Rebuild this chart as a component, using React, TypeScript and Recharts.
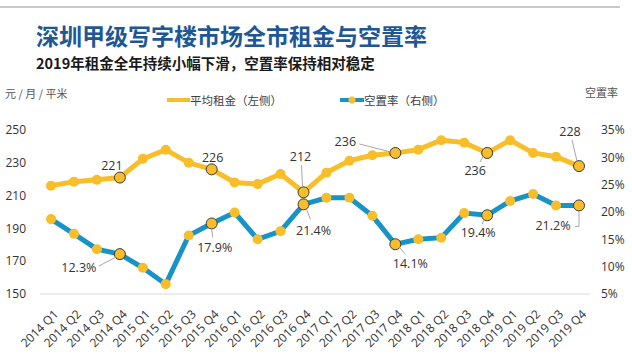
import React from "react";
import { LineChart, Line, XAxis, YAxis, CartesianGrid, Legend, LabelList } from "recharts";

// quarters on the category axis
const quarters = [
  "2014 Q1", "2014 Q2", "2014 Q3", "2014 Q4",
  "2015 Q1", "2015 Q2", "2015 Q3", "2015 Q4",
  "2016 Q1", "2016 Q2", "2016 Q3", "2016 Q4",
  "2017 Q1", "2017 Q2", "2017 Q3", "2017 Q4",
  "2018 Q1", "2018 Q2", "2018 Q3", "2018 Q4",
  "2019 Q1", "2019 Q2", "2019 Q3", "2019 Q4",
];

// 平均租金 (元/月/平米), left axis
const rent = [
  216, 218.5, 219.6, 221,
  232.4, 238, 230, 226,
  218, 217, 223.2, 212,
  224, 231.3, 234.6, 236,
  238, 243.8, 242.3, 236,
  243.8, 236, 233.7, 228,
];

// 空置率 (%), right axis
const vacancy = [
  18.7, 16.0, 13.2, 12.3,
  9.8, 6.8, 15.7, 17.9,
  19.9, 15.0, 16.5, 21.4,
  22.6, 22.6, 19.3, 14.1,
  15.0, 15.3, 19.8, 19.4,
  22.0, 23.3, 21.2, 21.2,
];

const rentTicks = [150, 170, 190, 210, 230, 250];
const vacancyTicks = [5, 10, 15, 20, 25, 30, 35];

// the points that carry a value label
const labelled = [3, 7, 11, 15, 19, 23];

const YELLOW = "#F8BE2A";
const BLUE = "#1893C8";
const NUM_FONT = "'Open Sans', 'Noto Sans CJK SC', sans-serif";
const CJK_FONT = "'Noto Sans CJK SC', 'Noto Sans', sans-serif";

// label placement relative to its point: text centre (dx, dy) and optional leader start
type Place = { dx: number; dy: number; leader?: number[][] };

const rentPlace: Record<number, Place> = {
  3: { dx: -8, dy: -12 },
  7: { dx: 1, dy: -12 },
  11: { dx: -3, dy: -36, leader: [[-2, -27], [-1, -6]] },
  15: { dx: -50, dy: -11, leader: [[-36, -9], [-5, -1]] },
  19: { dx: -12, dy: 18, leader: [[-7, 9], [-4, 3]] },
  23: { dx: -9, dy: -35, leader: [[-7, -26], [-2, -5]] },
};

const vacPlace: Record<number, Place> = {
  3: { dx: -41, dy: 13, leader: [[-21, 12], [-4, 3]] },
  7: { dx: 3, dy: 24, leader: [[1, 14], [0, 6]] },
  11: { dx: 10, dy: 26, leader: [[7, 15], [3, 5]] },
  15: { dx: 15, dy: 19, leader: [[10, 10], [4, 3]] },
  19: { dx: -9, dy: 17, leader: [[-5, 9], [-3, 4]] },
  23: { dx: -26, dy: 20, leader: [[-4, 21], [0, 21], [0, 6]] },
};

const data = quarters.map((q, i) => ({ q, rent: rent[i], vac: vacancy[i] }));

function makeDot(props: any) {
  const { cx, cy, index } = props;
  const marked = labelled.includes(index);
  return (
    <circle
      key={`dot-${props.dataKey}-${index}`}
      cx={cx}
      cy={cy}
      r={marked ? 5.5 : 5}
      fill={YELLOW}
      stroke={marked ? "#3a3a3a" : "none"}
      strokeWidth={1}
    />
  );
}

function makeLabel(places: Record<number, Place>, fmt: (v: number) => string) {
  return (props: any) => {
    const { x, y, value, index } = props;
    const p = places[index];
    if (!p) return null;
    return (
      <g key={`lbl-${index}`}>
        {p.leader && (
          <polyline
            points={p.leader.map(([a, b]) => `${x + a},${y + b}`).join(" ")}
            fill="none"
            stroke="#a6a6a6"
            strokeWidth={1}
          />
        )}
        <text
          x={x + p.dx}
          y={y + p.dy}
          dy={4.5}
          textAnchor="middle"
          fontSize={12.5}
          fontFamily={NUM_FONT}
          fill="#333"
        >
          {fmt(value)}
        </text>
      </g>
    );
  };
}

function QuarterTick(props: any) {
  const { x, y, payload } = props;
  const ax = x + 8;
  const ay = y + 13;
  return (
    <text
      x={ax}
      y={ay}
      transform={`rotate(-45, ${ax}, ${ay})`}
      textAnchor="end"
      fontSize={12}
      fontFamily={NUM_FONT}
      fill="#333"
    >
      {payload.value}
    </text>
  );
}

function LegendBox() {
  return (
    <div style={{ position: "relative", height: 18, fontFamily: CJK_FONT, fontSize: 11.5, color: "#404040" }}>
      <svg width={24} height={18} style={{ position: "absolute", left: 167, top: 0 }}>
        <line x1={0} y1={9} x2={23} y2={9} stroke={YELLOW} strokeWidth={4} />
      </svg>
      <span style={{ position: "absolute", left: 190, top: 0, lineHeight: "18px" }}>平均租金（左侧）</span>
      <svg width={24} height={18} style={{ position: "absolute", left: 340, top: 0 }}>
        <line x1={0} y1={9} x2={24} y2={9} stroke={BLUE} strokeWidth={4} />
        <circle cx={12} cy={9} r={3.5} fill={YELLOW} />
      </svg>
      <span style={{ position: "absolute", left: 364, top: 0, lineHeight: "18px" }}>空置率（右侧）</span>
    </div>
  );
}

export default function App() {
  return (
    <div style={{ position: "absolute", left: 0, top: 0, width: 632, height: 360, background: "#fff", overflow: "hidden" }}>
      <div style={{ position: "absolute", left: 0, top: 6, width: 620, height: 2, background: "#c8c8c8" }} />
      <div
        style={{
          position: "absolute", left: 36, top: 20, fontFamily: CJK_FONT, fontWeight: 700,
          fontSize: 23, lineHeight: "30px", color: "#1d5796", whiteSpace: "nowrap",
        }}
      >
        深圳甲级写字楼市场全市租金与空置率
      </div>
      <div
        style={{
          position: "absolute", left: 36, top: 53, fontFamily: CJK_FONT, fontWeight: 700,
          fontSize: 14.5, lineHeight: "20px", color: "#1a1a1a", whiteSpace: "nowrap",
        }}
      >
        2019年租金全年持续小幅下滑，空置率保持相对稳定
      </div>
      <div style={{ position: "absolute", left: 5, top: 85, fontFamily: CJK_FONT, fontSize: 11, color: "#555", whiteSpace: "nowrap" }}>
        元 / 月 / 平米
      </div>
      <div style={{ position: "absolute", left: 585, top: 84, fontFamily: CJK_FONT, fontSize: 11, color: "#555", whiteSpace: "nowrap" }}>
        空置率
      </div>
      <div style={{ position: "absolute", left: 0, top: 0 }}>
        <LineChart width={632} height={360} data={data} margin={{ top: 112, right: 0, bottom: 0, left: 0 }}>
          <CartesianGrid horizontal={false} vertical={false} />
          <XAxis
            dataKey="q"
            interval={0}
            height={66}
            padding={{ left: 11, right: 11 }}
            axisLine={{ stroke: "#d9d9d9", strokeWidth: 1 }}
            tickLine={false}
            tick={<QuarterTick />}
          />
          <YAxis
            yAxisId="l"
            orientation="left"
            width={40}
            domain={[150, 250]}
            ticks={rentTicks}
            axisLine={false}
            tickLine={false}
            tickSize={6}
            tickMargin={8}
            tick={{ fontSize: 12, fill: "#333", fontFamily: NUM_FONT }}
          />
          <YAxis
            yAxisId="r"
            orientation="right"
            width={42}
            domain={[5, 35]}
            ticks={vacancyTicks}
            tickFormatter={(v: number) => `${v}%`}
            axisLine={false}
            tickLine={false}
            tickSize={6}
            tickMargin={5}
            tick={{ fontSize: 12, fill: "#333", fontFamily: NUM_FONT, textAnchor: "start" }}
          />
          <Legend
            verticalAlign="top"
            content={<LegendBox />}
            wrapperStyle={{ position: "absolute", top: 91, left: 0, width: 632 }}
          />
          <Line
            yAxisId="r"
            dataKey="vac"
            name="空置率（右侧）"
            stroke={BLUE}
            strokeWidth={5}
            dot={makeDot}
            activeDot={false}
            isAnimationActive={false}
          >
            <LabelList dataKey="vac" content={makeLabel(vacPlace, (v) => `${v.toFixed(1)}%`)} />
          </Line>
          <Line
            yAxisId="l"
            dataKey="rent"
            name="平均租金（左侧）"
            stroke={YELLOW}
            strokeWidth={5}
            dot={makeDot}
            activeDot={false}
            isAnimationActive={false}
          >
            <LabelList dataKey="rent" content={makeLabel(rentPlace, (v) => `${Math.round(v)}`)} />
          </Line>
        </LineChart>
      </div>
    </div>
  );
}
